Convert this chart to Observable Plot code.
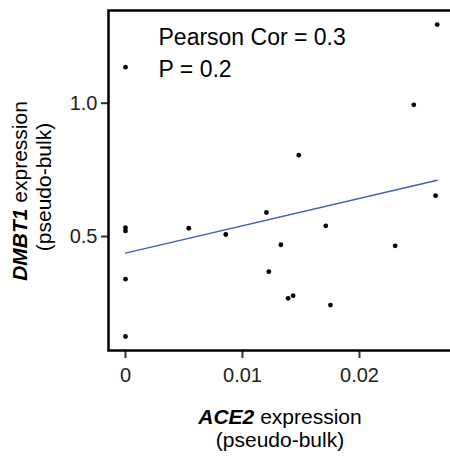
<!DOCTYPE html>
<html>
<head>
<meta charset="utf-8">
<script src="https://cdn.jsdelivr.net/npm/d3@7"></script>
<script src="https://cdn.jsdelivr.net/npm/@observablehq/plot@0.6"></script>
<style>
  html, body { margin: 0; padding: 0; background: white; overflow: hidden; }
  svg { overflow: hidden; }
</style>
</head>
<body>
<div id="chart"></div>
<script>
// ACE2 (x) and DMBT1 (y) pseudo-bulk expression per sample
const ace2 = [0.02664, 0, 0.02464, 0.01481, 0.02650, 0.01205, 0, 0, 0.00541, 0.00857,
              0.01712, 0.01328, 0.02305, 0.01225, 0, 0.01433, 0.01390, 0.01752, 0];
const dmbt1 = [1.295, 1.135, 0.994, 0.805, 0.653, 0.590, 0.533, 0.521, 0.531, 0.5075,
               0.540, 0.469, 0.465, 0.368, 0.340, 0.278, 0.268, 0.243, 0.125];

// fitted regression line
const fitX = [0, 0.02664];
const fitY = [0.4375, 0.711];

const xTicks = [0, 0.01, 0.02];
const xTickLabels = ["0", "0.01", "0.02"];
const yTicks = [0.5, 1.0];
const yTickLabels = ["0.5", "1.0"];

const annotation = ["Pearson Cor = 0.3", "P = 0.2"];

const points = ace2.map((x, i) => ({x, y: dmbt1[i]}));
const fit = fitX.map((x, i) => ({x, y: fitY[i]}));

const font = "'Liberation Sans', Arial, Helvetica, sans-serif";

const svg = Plot.plot({
  width: 450,
  height: 462,
  marginLeft: 108,
  marginRight: -2.6,
  marginTop: 10,
  marginBottom: 112,
  style: {fontFamily: font, background: "white", overflow: "hidden"},
  x: {domain: [-0.00145, 0.028]},
  y: {domain: [0.0725, 1.3476]},
  marks: [
    Plot.axisX({ticks: xTicks, tickFormat: (d, i) => xTickLabels[i], tickSize: 8, tickPadding: 9,
                fontSize: 20, label: null, stroke: "#333", strokeWidth: 2, fill: "#222"}),
    Plot.axisY({ticks: yTicks, tickFormat: (d, i) => yTickLabels[i], tickSize: 7, tickPadding: 4,
                fontSize: 20, label: null, stroke: "#333", strokeWidth: 2, fill: "#222"}),
    Plot.line(fit, {x: "x", y: "y", stroke: "#3A5FC0", strokeWidth: 1.3}),
    Plot.dot(points, {x: "x", y: "y", r: 2.4, fill: "black", stroke: "none"}),
    Plot.text([annotation.join("\n")], {frameAnchor: "top-left", text: d => d, textAnchor: "start",
                lineAnchor: "top", lineHeight: 1.43, fontSize: 23, dx: 50, dy: 10.7, fill: "black"}),
    Plot.frame({stroke: "black", strokeWidth: 2.5})
  ]
});

const s = d3.select(svg);
// x axis title
const xt1 = s.append("text").attr("x", 280).attr("y", 424).attr("text-anchor", "middle")
  .attr("font-size", 21).attr("fill", "black").attr("font-family", font);
xt1.append("tspan").attr("font-weight", "bold").attr("font-style", "italic").text("ACE2");
xt1.append("tspan").text(" expression");
s.append("text").attr("x", 280).attr("y", 447).attr("text-anchor", "middle")
  .attr("font-size", 21).attr("fill", "black").attr("font-family", font).text("(pseudo-bulk)");
// y axis title
const yt1 = s.append("text").attr("transform", "translate(27,191) rotate(-90)").attr("text-anchor", "middle")
  .attr("font-size", 21).attr("fill", "black").attr("font-family", font);
yt1.append("tspan").attr("font-weight", "bold").attr("font-style", "italic").text("DMBT1");
yt1.append("tspan").text(" expression");
s.append("text").attr("transform", "translate(51,187) rotate(-90)").attr("text-anchor", "middle")
  .attr("font-size", 21).attr("fill", "black").attr("font-family", font).text("(pseudo-bulk)");

document.getElementById("chart").appendChild(svg);
</script>
</body>
</html>
